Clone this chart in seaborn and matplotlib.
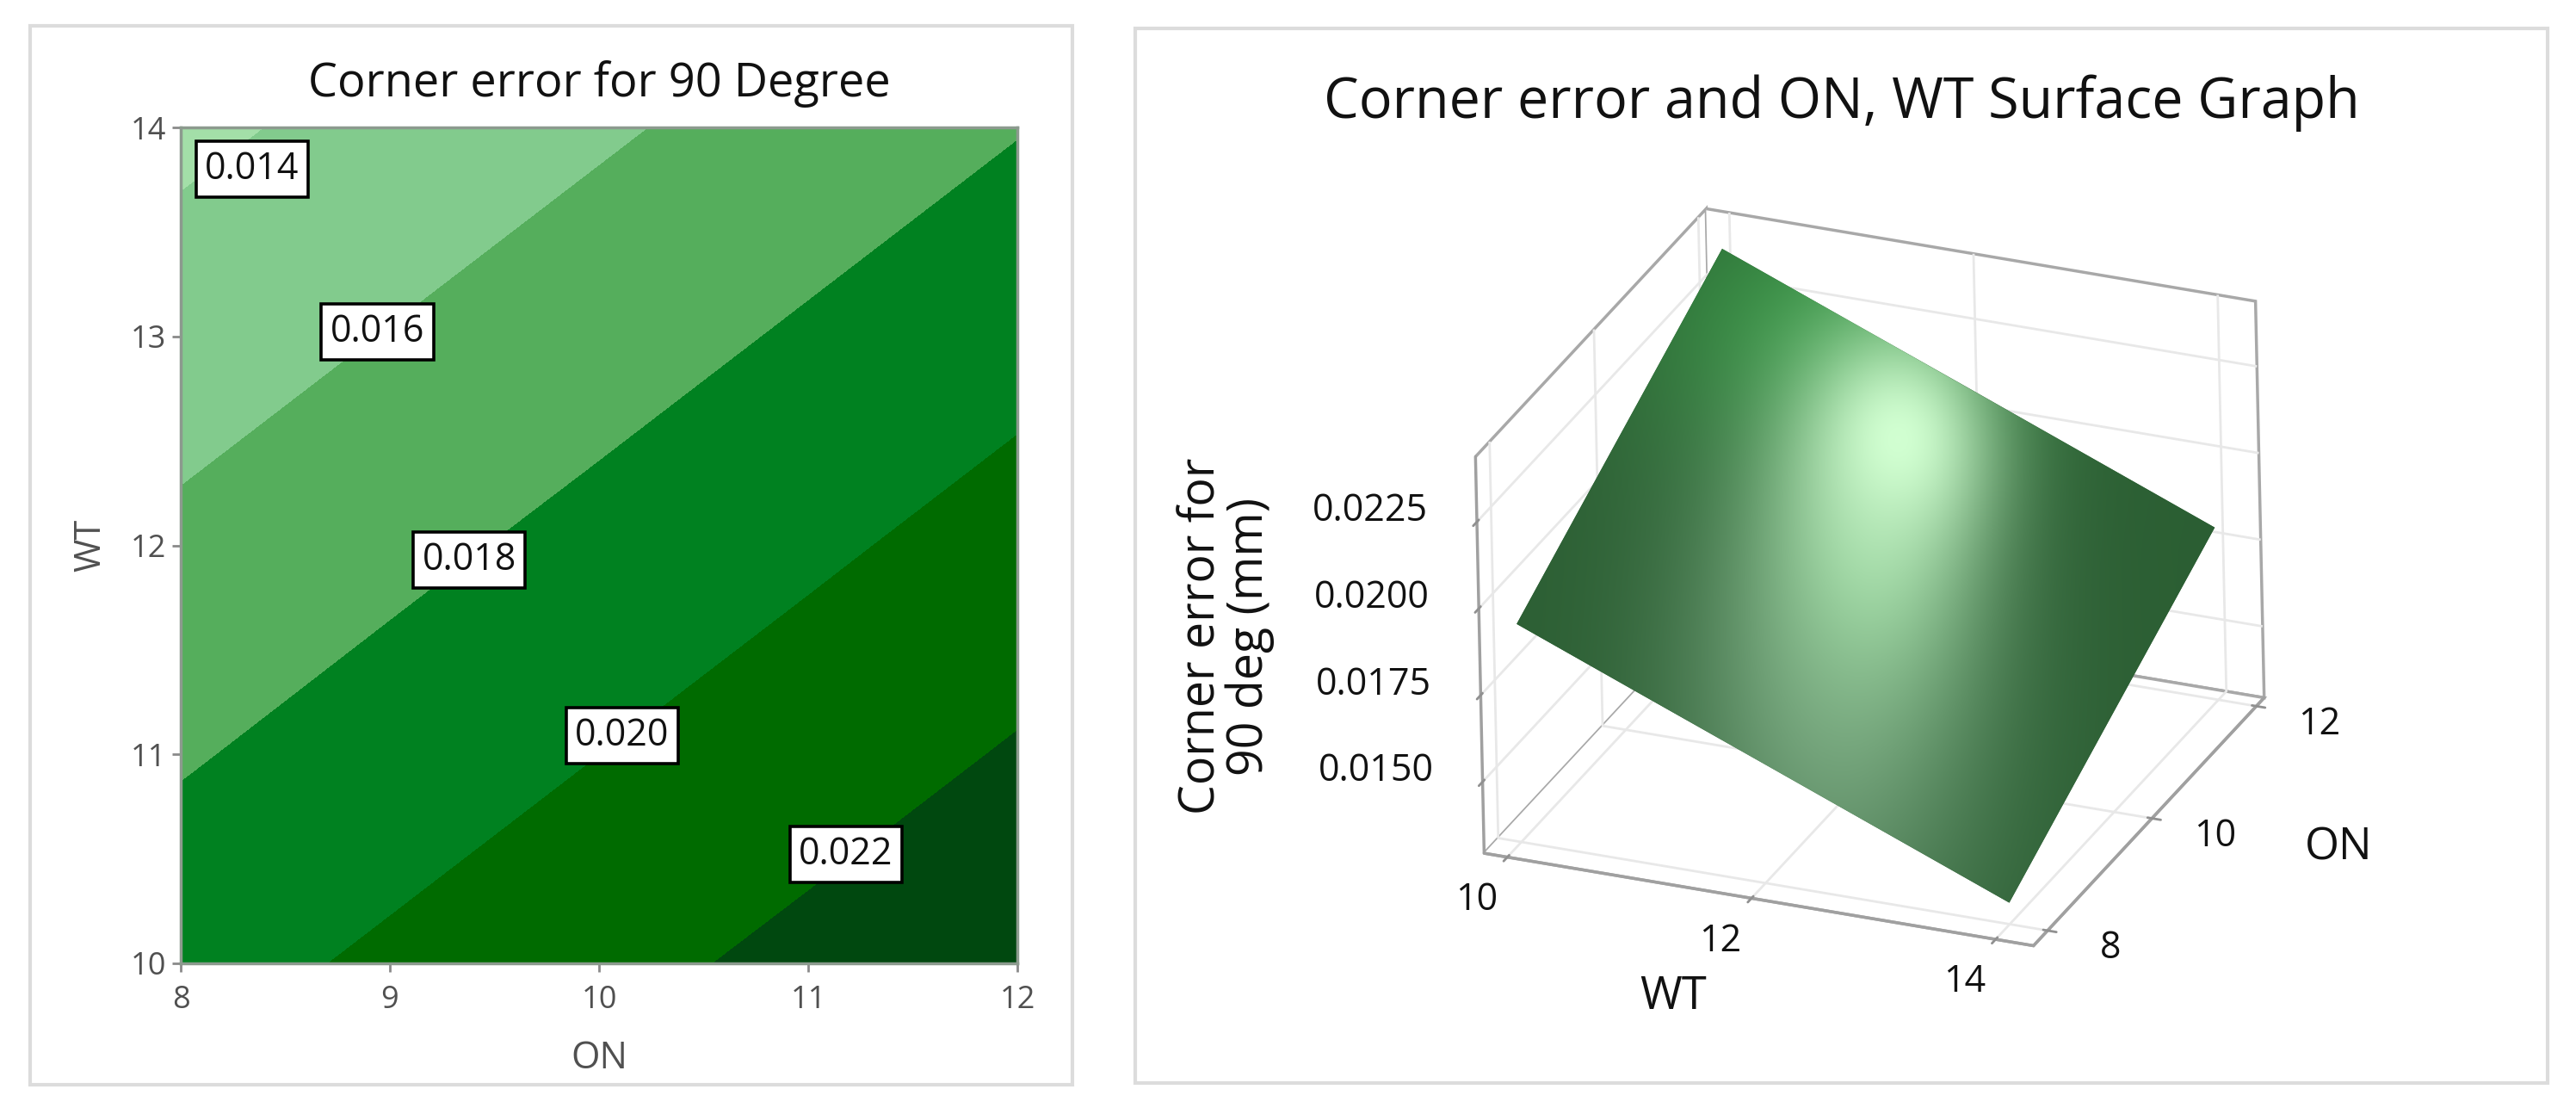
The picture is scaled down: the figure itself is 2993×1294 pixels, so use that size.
import numpy as np
import matplotlib
matplotlib.use('Agg')
import matplotlib.pyplot as plt
from matplotlib.patches import Polygon, Rectangle
from mpl_toolkits.mplot3d import proj3d
import seaborn as sns

sns.set_theme(style='white')
plt.rcParams['font.family'] = ['Open Sans', 'DejaVu Sans']

W, H = 2993, 1294

# corner error, rows are WT, columns are ON
on_vals = [8, 9, 10, 11, 12]
wt_vals = [10, 11, 12, 13, 14]
err_10 = [0.01923, 0.02032, 0.02141, 0.02249, 0.02358]
err_11 = [0.01781, 0.01890, 0.01999, 0.02107, 0.02216]
err_12 = [0.01640, 0.01749, 0.01857, 0.01966, 0.02075]
err_13 = [0.01498, 0.01607, 0.01715, 0.01824, 0.01933]
err_14 = [0.01356, 0.01465, 0.01574, 0.01682, 0.01791]

levels = [0.010, 0.014, 0.016, 0.018, 0.020, 0.022, 0.026]
band_colors = ['#a3dfa8', '#82cb8d', '#55ae5c', '#008120', '#006b00', '#00480f']

label_vals = ['0.014', '0.016', '0.018', '0.020', '0.022']
label_on = [8.34, 8.94, 9.38, 10.11, 11.18]
label_wt = [13.80, 13.02, 11.93, 11.09, 10.52]

wt_ticks = [10, 12, 14]
on_ticks = [8, 10, 12]
z_ticks = [0.0150, 0.0175, 0.0200, 0.0225]
wt_lim = (9.81, 14.31)
on_lim = (7.73, 12.15)
z_lim = (0.01294, 0.02438)

err = np.array([err_10, err_11, err_12, err_13, err_14])
pal = sns.color_palette(band_colors)

fig = plt.figure(figsize=(W / 100, H / 100), dpi=100, facecolor='white')


def px_rect(x0, y0, x1, y1):
    return [x0 / W, 1 - y1 / H, (x1 - x0) / W, (y1 - y0) / H]


# panel frames
for x0, y0, x1, y1 in [(35, 30, 1246, 1260), (1319, 33, 2960, 1258)]:
    fig.add_artist(Rectangle((x0 / W, 1 - y1 / H), (x1 - x0) / W, (y1 - y0) / H,
                             transform=fig.transFigure, fill=False,
                             edgecolor='#dcdcdc', linewidth=3))

# contour panel
ax = fig.add_axes(px_rect(210, 148, 1182, 1119))
ax.contourf(on_vals, wt_vals, err, levels=levels, colors=pal)
ax.set_xlim(8, 12)
ax.set_ylim(10, 14)
ax.set_xticks(on_vals)
ax.set_yticks(wt_vals)
ax.tick_params(length=7, width=2, color='#8a8a8a', labelcolor='#505050', labelsize=26, left=True, bottom=True)
ax.tick_params(axis='x', pad=11)
ax.tick_params(axis='y', pad=5)
for s in ax.spines.values():
    s.set_color('#8c9a8e')
    s.set_linewidth(2.5)
ax.set_xlabel('ON', fontsize=31, color='#505050', labelpad=20)
ax.set_ylabel('WT', fontsize=30, color='#505050', labelpad=18)
ax.set_title('Corner error for 90 Degree', fontsize=39, color='#111111', pad=26)
for t, xv, yv in zip(label_vals, label_on, label_wt):
    ax.text(xv, yv, t, fontsize=31, color='#111111', ha='center', va='center',
            bbox=dict(boxstyle='square,pad=0.24', fc='white', ec='black', lw=2.6))

# surface panel
ax3 = fig.add_axes(px_rect(1621, 148, 1621 + 1074, 148 + 1074), projection='3d', facecolor='none')
wt_grid, on_grid = np.meshgrid(wt_vals, on_vals, indexing='ij')
ax3.set_proj_type('ortho')
ax3.view_init(elev=26.3, azim=-66.7, roll=1.25)
ax3.set_box_aspect((1.347, 1.349, 1.0), zoom=1.0)
ax3.plot_surface(wt_grid, on_grid, err, color='#2c5f32', shade=False, rstride=1, cstride=1,
                 linewidth=0, antialiased=True)
ax3.set_xlim(*wt_lim)
ax3.set_ylim(*on_lim)
ax3.set_zlim(*z_lim)
ax3.set_xticks(wt_ticks)
ax3.set_yticks(on_ticks)
ax3.set_zticks(z_ticks)
ax3.set_xticklabels([])
ax3.set_yticklabels([])
ax3.set_zticklabels([])
ax3.zaxis.set_ticks_position('lower')
for a in (ax3.xaxis, ax3.yaxis, ax3.zaxis):
    a.set_pane_color((1, 1, 1, 1))
    a.pane.set_edgecolor('#a8a8a8')
    a.pane.set_linewidth(2.5)
    a.line.set_color('#a0a0a0')
    a.line.set_linewidth(2.5)
    a._axinfo['grid']['color'] = '#e8e8e8'
    a._axinfo['grid']['linewidth'] = 2
    a._axinfo['tick']['color'] = '#909090'
    a._axinfo['tick']['linewidth'] = {True: 2, False: 1}
    a.set_tick_params(color='#909090')

# overlay in figure pixels, for what sits on the projected surface and ticks
fig.canvas.draw()
over = fig.add_axes([0, 0, 1, 1], facecolor='none')
over.axis('off')


def project(x, y, z):
    xp, yp, _ = proj3d.proj_transform(x, y, z, ax3.get_proj())
    dx, dy = ax3.transData.transform((xp, yp))
    return dx, H - dy


# light spot on the surface, clipped to the projected corners of the table
poly = [project(10, 8, err[0, 0]), project(14, 8, err[4, 0]), project(14, 12, err[4, 4]), project(10, 12, err[0, 4])]
xx, yy = np.meshgrid(np.arange(1750, 2600), np.arange(270, 1070))
spot = np.exp(-((xx - 2205) / 105.0) ** 2 - ((yy - 510) / 130.0) ** 2)
mid = np.exp(-((xx - 2170) / 125.0) ** 2 - ((yy - 650) / 190.0) ** 2)
band = np.exp(-((xx - 2125) / 190.0) ** 2 - ((yy - 830) / 330.0) ** 2)
top = np.exp(-((xx - 2130) / 230.0) ** 2 - ((yy - 370) / 170.0) ** 2)
dark = np.array([0.17, 0.37, 0.20])
rgb = np.empty(xx.shape + (3,))
for i in range(3):
    rgb[..., i] = dark[i]
    rgb[..., i] += band * ([0.42, 0.60, 0.45][i] - dark[i])
    rgb[..., i] += top * [0.03, 0.18, 0.05][i]
    rgb[..., i] += mid * ([0.60, 0.82, 0.62][i] - rgb[..., i])
    rgb[..., i] += spot * ([0.82, 1.0, 0.82][i] - rgb[..., i])
im = over.imshow(np.clip(rgb, 0, 1), extent=(1750, 2600, 1070, 270), aspect='auto', interpolation='bilinear', zorder=2)
over.set_xlim(0, W)
over.set_ylim(H, 0)
im.set_clip_path(Polygon(poly, closed=True, transform=over.transData))

# tick labels next to their projected ticks
for v in wt_ticks:
    px, py = project(v, on_lim[0], z_lim[0])
    over.text(px - 36, py + 50, str(v), fontsize=31, ha='center', va='center', color='#111111')
for v in on_ticks:
    px, py = project(wt_lim[1], v, z_lim[0])
    over.text(px + 73, py + 21, str(v), fontsize=31, ha='center', va='center', color='#111111')
for v in z_ticks:
    px, py = project(wt_lim[0], on_lim[0], v)
    over.text(px - 124, py - 12, '%.4f' % v, fontsize=31, ha='center', va='center', color='#111111')

# right panel texts
fig.text(2140 / W, 1 - 120 / H, 'Corner error and ON, WT Surface Graph', fontsize=46.5, ha='center', va='center', color='#111111')
fig.text(1425 / W, 1 - 739 / H, 'Corner error for\n90 deg (mm)', fontsize=40, rotation=90, ha='center', va='center',
         color='#111111', linespacing=0.95)
fig.text(1944 / W, 1 - 1158 / H, 'WT', fontsize=38, ha='center', va='center', color='#111111')
fig.text(2717 / W, 1 - 985 / H, 'ON', fontsize=37, ha='center', va='center', color='#111111')

fig.savefig('out.png', dpi=100)
